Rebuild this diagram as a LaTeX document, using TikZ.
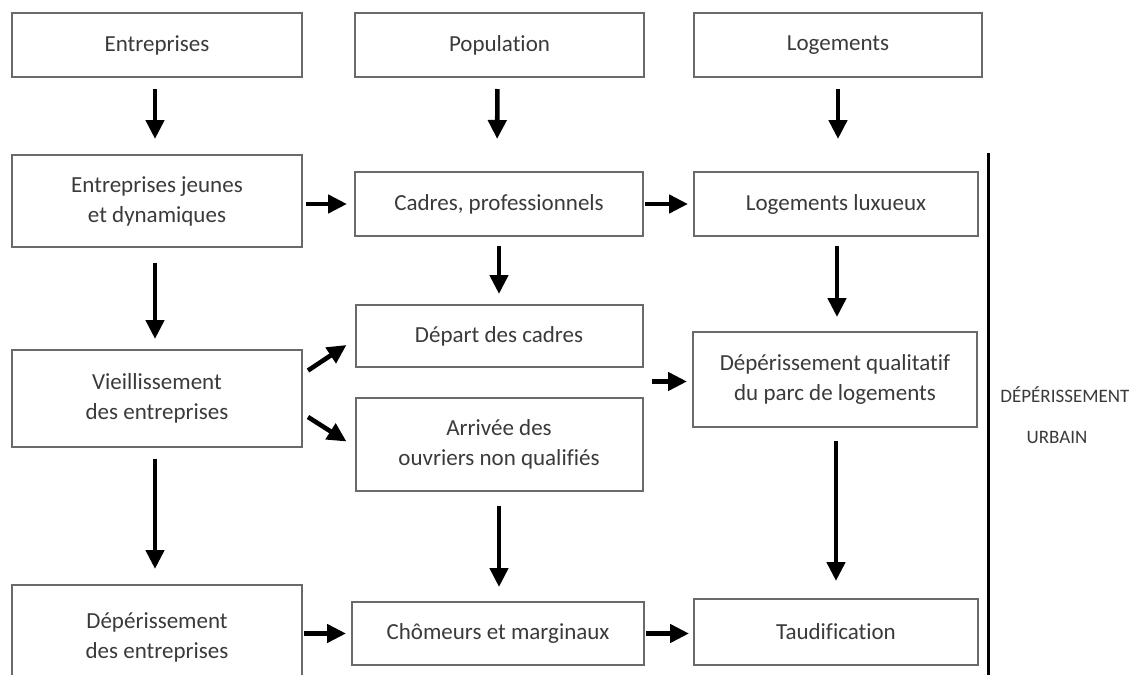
\documentclass[tikz,border=0pt]{standalone}
\usepackage{fontspec}
\setmainfont{Carlito}[RawFeature={-liga}]
\usetikzlibrary{arrows.meta,calc}
\definecolor{boxline}{HTML}{6A6A6A}
\definecolor{txt}{HTML}{3A3A3A}
\tikzset{
  box/.style={draw=boxline, line width=1pt, rectangle, align=center, text=txt,
    font=\fontsize{11.5}{15}\selectfont, inner sep=0pt},
  arr/.style={line width=2.3pt, draw=black, -{Triangle[length=9.5pt,width=9pt]}},
  lab/.style={text=txt, inner sep=0pt, font=\fontsize{9.5}{11}\selectfont}
}
\begin{document}
\begin{tikzpicture}[x=0.5pt,y=-0.5pt]
\useasboundingbox (0,0) rectangle (1137,675);
\clip (0,0) rectangle (1137,675);
% row 1
\node[box, minimum width=145pt, minimum height=32pt] (A1) at (157,45) {Entreprises};
\node[box, minimum width=144.5pt, minimum height=32pt] (B1) at (499.5,45) {Population};
\node[box, minimum width=144pt, minimum height=32pt] (C1) at (838,45) {Logements};
% row 2
\node[box, minimum width=145pt, minimum height=46pt] (A2) at (157,201) {Entreprises jeunes\\et dynamiques};
\node[box, minimum width=144pt, minimum height=32pt] (B2) at (499,204) {Cadres, professionnels};
\node[box, minimum width=142pt, minimum height=32pt] (C2) at (836,204) {Logements luxueux};
% row 3
\node[box, minimum width=145pt, minimum height=48.5pt] (A3) at (157,398.5) {Vieillissement\\des entreprises};
\node[box, minimum width=143.5pt, minimum height=31pt] (B3a) at (499,336) {Départ des cadres};
\node[box, minimum width=143.5pt, minimum height=46.5pt] (B3b) at (499,444.5) {Arrivée des\\ouvriers non qualifiés};
\node[box, minimum width=142pt, minimum height=47.5pt] (C3) at (835,379.5) {Dépérissement qualitatif\\du parc de logements};
% row 4
\node[box, minimum width=145pt, minimum height=52pt] (A4) at (157,637) {Dépérissement\\des entreprises};
\node[box, minimum width=146pt, minimum height=31.5pt] (B4) at (498,633.5) {Chômeurs et marginaux};
\node[box, minimum width=142pt, minimum height=33pt] (C4) at (836,632) {Taudification};
% vertical arrows
\draw[arr, shorten <=5.5pt, shorten >=7.5pt] ([xshift=-1pt]A1.south) -- ([xshift=-1pt]A2.north);
\draw[arr, shorten <=5.5pt, shorten >=16pt] ([xshift=-1pt]B1.south) -- ([xshift=-1pt]B2.north);
\draw[arr, shorten <=5.5pt, shorten >=16pt] (C1.south) -- (C1.south |- C2.north);
\draw[arr, shorten <=7.5pt, shorten >=5pt] ([xshift=-1pt]A2.south) -- ([xshift=-1pt]A3.north);
\draw[arr, shorten <=5.5pt, shorten >=7.5pt] ([xshift=-1pt]A3.south) -- ([xshift=-1pt]A4.north);
\draw[arr, shorten <=4.5pt, shorten >=5pt] (B2.south) -- (B3a.north);
\draw[arr, shorten <=7pt, shorten >=7pt] (B3b.south) -- (B3b.south |- B4.north);
\draw[arr, shorten <=4.5pt, shorten >=7pt] ([xshift=0.5pt]C2.south) -- ([xshift=0.5pt]C2.south |- C3.north);
\draw[arr, shorten <=6.5pt, shorten >=8.5pt] ([xshift=0.5pt]C3.south) -- ([xshift=0.5pt]C3.south |- C4.north);
% horizontal arrows
\draw[arr, shorten <=1.5pt, shorten >=3.5pt] (A2.east |- B2.west) -- (B2.west);
\draw[arr, shorten <=0.5pt, shorten >=2.5pt] (B2.east) -- (B2.east -| C2.west);
\draw[arr, shorten <=0.5pt, shorten >=2.5pt] (A4.east |- B4.west) -- (B4.west);
\draw[arr, shorten <=0.5pt, shorten >=2pt] (B4.east) -- (B4.east -| C4.west);
% diagonal arrows
\draw[arr] ([xshift=2.5pt,yshift=14pt]A3.east) -- ([xshift=-4pt,yshift=-4.5pt]B3a.west);
\draw[arr] ([xshift=2.5pt,yshift=-9.25pt]A3.east) -- ([xshift=-4pt,yshift=1.5pt]B3b.west);
% middle arrow to C3
\coordinate (m) at ($(B3a.south east)!0.5!(B3b.north east)+(4pt,0.5pt)$);
\draw[arr, shorten >=2.5pt] (m) -- (m -| C3.west);
% bracket line
\coordinate (bt) at (988,153);
\coordinate (bb) at (988,680);
\draw[line width=1.5pt, black] (bt) -- (bb);
\node[lab, anchor=west] (d1) at (1000,395) {DÉPÉRISSEMENT};
\node[lab] (d2) at (1057,437) {URBAIN};
\end{tikzpicture}
\end{document}
